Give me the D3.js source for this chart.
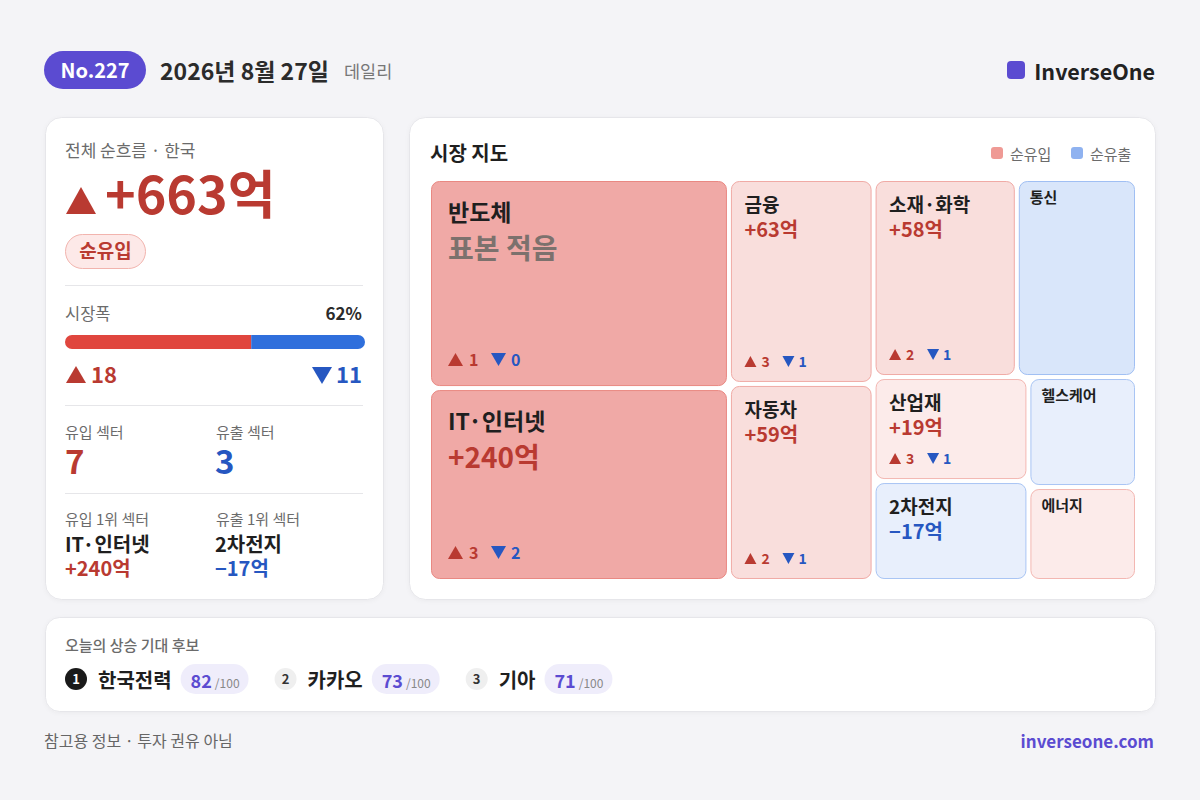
<!DOCTYPE html>
<html><head><meta charset="utf-8">
<script src="https://cdn.jsdelivr.net/npm/d3@7"></script>
<style>
html,body{margin:0;padding:0;background:#f4f4f7;}
svg{display:block;font-family:"Noto Sans CJK KR","Noto Sans",sans-serif;}
</style></head>
<body>
<svg id="c" width="1200" height="800"></svg>
<script>
// ---- data ----
const issueNo = "No.227";
const issueDate = "2026년 8월 27일";
const issueType = "데일리";
const brand = "InverseOne";
const totalFlow = 663;            // 억
const upCount = 18;
const downCount = 11;
const inflowSectors = 7;
const outflowSectors = 3;
const topIn = {name: "IT·인터넷", flow: 240};
const topOut = {name: "2차전지", flow: -17};

const sectors      = ["반도체","IT·인터넷","금융","자동차","소재·화학","통신","산업재","2차전지","헬스케어","에너지"];
const sectorWeight = [22.0, 20.3, 10.4, 10.0, 9.95, 8.35, 5.65, 5.43, 4.19, 3.58];
const sectorFlow   = [null, 240, 63, 59, 58, null, 19, -17, null, null];
const sectorSign   = [1, 1, 1, 1, 1, -1, 1, -1, -1, 1];
const sectorTier   = [3, 3, 2, 2, 2, 2, 1, 1, 1, 1];
const sectorUp     = [1, 3, 3, 2, 2, null, 3, null, null, null];
const sectorDown   = [0, 2, 1, 1, 1, null, 1, null, null, null];

const candidates = ["한국전력","카카오","기아"];
const candScores = [82, 73, 71];

// ---- drawing ----
const RED = "#b93a31", BLUE = "#2657c1", PURPLE = "#5b4bd1";
const svg = d3.select("#c");
const defs = svg.append("defs");
const f = defs.append("filter").attr("id","sh").attr("x","-5%").attr("y","-5%").attr("width","110%").attr("height","115%");
f.append("feDropShadow").attr("dx",0).attr("dy",1).attr("stdDeviation",2).attr("flood-color","#000").attr("flood-opacity",0.04);

function tri(g, x, y, w, h, up, color){
  const p = up ? `M${x},${y+h}L${x+w/2},${y}L${x+w},${y+h}Z` : `M${x},${y}L${x+w},${y}L${x+w/2},${y+h}Z`;
  g.append("path").attr("d", p).attr("fill", color);
}
function txt(g, x, y, s, size, color, weight, anchor){
  return g.append("text").attr("x",x).attr("y",y).text(s)
    .attr("font-size",size).attr("fill",color).attr("font-weight",weight||400)
    .attr("text-anchor",anchor||"start");
}
const fmt = v => (v>=0?"+":"−") + Math.abs(v) + "억";

// header
const hd = svg.append("g");
hd.append("rect").attr("x",44).attr("y",51).attr("width",102).attr("height",38).attr("rx",19).attr("fill",PURPLE);
txt(hd, 95, 77.5, issueNo, 20, "#fff", 700, "middle");
txt(hd, 160, 80, issueDate, 23, "#2b2b2b", 700);
txt(hd, 344, 78, issueType, 17.5, "#777", 400);
hd.append("rect").attr("x",1007).attr("y",61).attr("width",18).attr("height",18).attr("rx",4).attr("fill",PURPLE);
txt(hd, 1155, 80, brand, 21.5, "#222", 700, "end");

// cards
function card(x,y,w,h,r){
  svg.append("rect").attr("x",x).attr("y",y).attr("width",w).attr("height",h).attr("rx",r)
    .attr("fill","#fff").attr("stroke","#e6e6ea").attr("filter","url(#sh)");
}
card(45.5,117.5,338,482,16);
card(409.5,117.5,746,482,16);
card(45.5,617.5,1110,94,14);

// left card
const L = svg.append("g");
txt(L, 65, 157, "전체 순흐름 · 한국", 17, "#6b6b6b", 400);
tri(L, 66, 187, 30, 27, totalFlow>=0, RED);
txt(L, 105, 214, fmt(totalFlow), 52, RED, 700);
L.append("rect").attr("x",65.5).attr("y",234.5).attr("width",80).attr("height",34).attr("rx",17)
  .attr("fill","#fde9e8").attr("stroke","#f2b4ae");
txt(L, 105.5, 258, "순유입", 19, RED, 700, "middle");
[285, 405, 493].forEach(y => L.append("line").attr("x1",65).attr("x2",363).attr("y1",y+0.5).attr("y2",y+0.5).attr("stroke","#e6e6e9"));
const breadth = Math.round(100*upCount/(upCount+downCount));
txt(L, 65, 320, "시장폭", 16.5, "#6b6b6b", 400);
txt(L, 362, 320, breadth + "%", 17, "#2b2b2b", 700, "end");
const bx = d3.scaleLinear().domain([0, upCount+downCount]).range([65, 365]);
defs.append("clipPath").attr("id","barclip").append("rect").attr("x",65).attr("y",335).attr("width",300).attr("height",14).attr("rx",7);
const bar = L.append("g").attr("clip-path","url(#barclip)");
bar.append("rect").attr("x",bx(0)).attr("y",335).attr("width",bx(upCount)-bx(0)).attr("height",14).attr("fill","#e0463e");
bar.append("rect").attr("x",bx(upCount)).attr("y",335).attr("width",bx(upCount+downCount)-bx(upCount)).attr("height",14).attr("fill","#2f6fdc");
tri(L, 66, 366, 20, 17, true, RED);
txt(L, 91, 383, upCount, 22, RED, 700);
tri(L, 312, 367, 20, 17, false, BLUE);
txt(L, 362, 383, downCount, 22, BLUE, 700, "end");
txt(L, 65, 438, "유입 섹터", 15, "#6b6b6b", 400);
txt(L, 216, 438, "유출 섹터", 15, "#6b6b6b", 400);
txt(L, 65, 474, inflowSectors, 33, RED, 700);
txt(L, 215, 474, outflowSectors, 33, BLUE, 700);
txt(L, 65, 525, "유입 1위 섹터", 15, "#6b6b6b", 400);
txt(L, 216, 525, "유출 1위 섹터", 15, "#6b6b6b", 400);
txt(L, 65, 552, topIn.name, 20, "#1f1f1f", 700);
txt(L, 65, 576, fmt(topIn.flow), 20, RED, 700);
txt(L, 215, 552, topOut.name, 20, "#1f1f1f", 700);
txt(L, 215, 576, fmt(topOut.flow), 20, BLUE, 700);

// map card
const M = svg.append("g");
txt(M, 430, 161, "시장 지도", 20, "#1f1f1f", 700);
M.append("rect").attr("x",991).attr("y",147).attr("width",12).attr("height",12).attr("rx",3).attr("fill","#ef9a95");
txt(M, 1010, 160, "순유입", 15, "#6b6b6b", 400);
M.append("rect").attr("x",1071).attr("y",147).attr("width",12).attr("height",12).attr("rx",3).attr("fill","#8fb2f0");
txt(M, 1090, 160, "순유출", 15, "#6b6b6b", 400);

const fillPos = d3.scaleOrdinal().domain([1,2,3]).range(["#fcebea","#f9dedc","#f0a9a6"]);
const strokePos = d3.scaleOrdinal().domain([1,2,3]).range(["#f3b7b2","#f0aaa5","#e98882"]);
const fillNeg = d3.scaleOrdinal().domain([1,2,3]).range(["#e8effc","#d9e6fa","#bcd2f6"]);
const strokeNeg = d3.scaleOrdinal().domain([1,2,3]).range(["#a9c5f4","#a0bff3","#8fb2f0"]);

const rows = sectors.map((name,i)=>({name, weight: sectorWeight[i], flow: sectorFlow[i], sign: sectorSign[i],
  tier: sectorTier[i], up: sectorUp[i], down: sectorDown[i]}));
const root = d3.hierarchy({children: rows}).sum(d => d.weight || 0);
d3.treemap().tile(d3.treemapSquarify.ratio(1)).size([704, 398]).paddingInner(4)(root);

const T = M.append("g").attr("transform","translate(431,181)");
root.leaves().forEach(n => {
  const d = n.data, w = n.x1-n.x0, h = n.y1-n.y0;
  const g = T.append("g").attr("transform",`translate(${n.x0},${n.y0})`);
  g.append("rect").attr("x",0.5).attr("y",0.5).attr("width",w-1).attr("height",h-1).attr("rx",8)
    .attr("fill", d.sign>0 ? fillPos(d.tier) : fillNeg(d.tier))
    .attr("stroke", d.sign>0 ? strokePos(d.tier) : strokeNeg(d.tier));
  let pad, ns, vs, nb, vb, cs, cb, tw, th, o;
  if (w >= 250) { pad=17; ns=23; vs=28; nb=40; vb=78; cs=16; cb=h-20; tw=15; th=13; o=[21,43,63]; }
  else if (w >= 130) { pad=13.5; ns=19; vs=20; nb=31; vb=56; cs=14; cb=h-15; tw=12; th=11; o=[17,38,54]; }
  else { txt(g, 11, 22, d.name, 15, "#1f1f1f", 700); return; }
  txt(g, pad, nb, d.name, ns, "#1f1f1f", 700);
  if (d.flow == null) txt(g, pad, vb, "표본 적음", vs, "#7c716d", 700);
  else txt(g, pad, vb, fmt(d.flow), vs, d.flow>=0?RED:BLUE, 700);
  if (d.up != null && h >= 98) {
    tri(g, pad, cb-th, tw, th, true, RED);
    txt(g, pad+o[0], cb, d.up, cs, RED, 700);
    tri(g, pad+o[1], cb-th, tw, th, false, BLUE);
    txt(g, pad+o[2], cb, d.down, cs, BLUE, 700);
  }
});

// candidates
const B = svg.append("g");
txt(B, 65, 651, "오늘의 상승 기대 후보", 15, "#6b6b6b", 500);
let cx = 65;
candidates.forEach((name,i) => {
  B.append("circle").attr("cx",cx+11).attr("cy",679).attr("r",11).attr("fill", i===0?"#1a1a1a":"#efefef");
  txt(B, cx+11, 684, i+1, 13, i===0?"#fff":"#333", 700, "middle");
  const t = txt(B, cx+33, 688, name, 20, "#1f1f1f", 700);
  const px = cx + 33 + t.node().getComputedTextLength() + 9;
  const pill = B.append("rect").attr("x",px).attr("y",664).attr("width",68).attr("height",30).attr("rx",15).attr("fill","#efedfb");
  const s = txt(B, px+10, 688, candScores[i], 18, PURPLE, 700);
  const sw = s.node().getComputedTextLength();
  const u = txt(B, px+10+sw+3, 688, "/100", 12, "#888", 400);
  const pw = 10 + sw + 3 + u.node().getComputedTextLength() + 9;
  pill.attr("width", pw);
  cx = px + pw + 26;
});

// footer
txt(svg, 44, 747, "참고용 정보 · 투자 권유 아님", 16, "#666", 400);
txt(svg, 1154, 748, "inverseone.com", 17, PURPLE, 700, "end");
</script>
</body></html>
